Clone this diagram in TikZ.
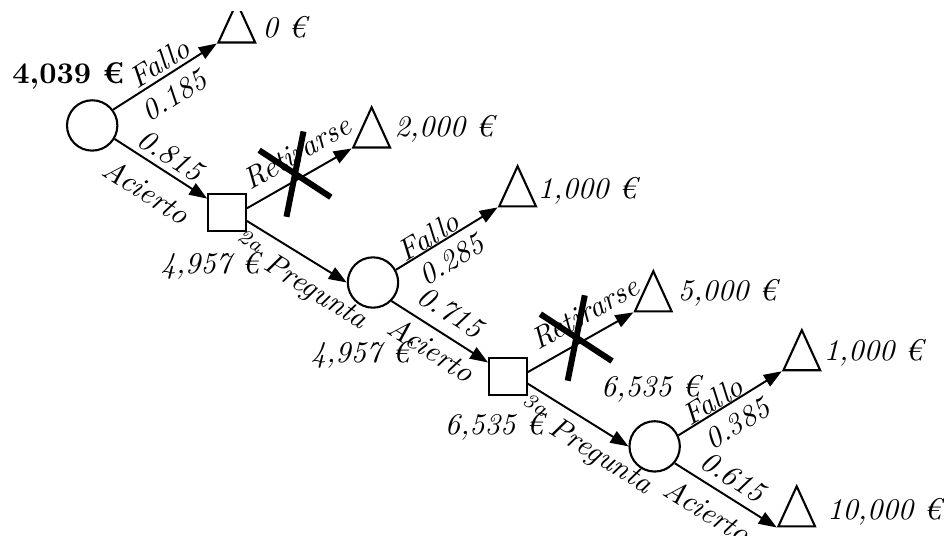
\documentclass[tikz,border=0pt]{standalone}
\usepackage{amsmath,amssymb}
\usetikzlibrary{positioning,arrows.meta,shapes,calc}

\begin{document}
\begin{tikzpicture}[
    chance/.style={draw, line width=0.7pt, circle, minimum size=0.59cm, inner sep=0pt},
    decision/.style={draw, line width=0.7pt, rectangle, minimum size=0.44cm, inner sep=0pt},
    payoff/.style={draw, line width=0.7pt, isosceles triangle, isosceles triangle stretches,
                   shape border rotate=90, minimum width=0.43cm, minimum height=0.47cm,
                   inner sep=0pt, anchor=left corner},
    arr/.style={line width=0.65pt, -{Triangle[length=6pt, width=4.4pt]}},
    lbl/.style={font=\itshape, sloped, inner sep=0pt},
    val/.style={font=\itshape},
    cut/.style={line width=2pt}
  ]
    \useasboundingbox (0,0) rectangle (11.06,6.27);
    \clip (0,0) rectangle (11.06,6.13);

    \node[chance] (c1) at (1.08,4.80) {};
    \node[decision] (d1) at (2.66,3.78) {};
    \node[chance] (c2) at (4.37,2.96) {};
    \node[decision] (d2) at (5.95,1.86) {};
    \node[chance] (c3) at (7.67,1.04) {};

    \node[payoff] (t1) at (2.54,5.76) {};
    \node[payoff] (t2) at (4.12,4.53) {};
    \node[payoff] (t3) at (5.83,3.84) {};
    \node[payoff] (t4) at (7.42,2.61) {};
    \node[payoff] (t5) at (9.16,1.92) {};
    \node[payoff] (t6) at (9.10,0.09) {};

    \node[font=\bfseries] (ev1) at (0.80,5.38) {4,039 €};
    \node[val] (ev2) at (2.46,3.15) {4,957 €};
    \node[val] (ev3) at (4.22,2.11) {4,957 €};
    \node[val] (ev4) at (5.79,1.27) {6,535 €};
    \node[val] (ev5) at (7.62,1.72) {6,535 €};

    \node[val] (p1) at (3.33,5.95) {0 €};
    \node[val] (p2) at (5.20,4.76) {2,000 €};
    \node[val] (p3) at (6.88,4.03) {1,000 €};
    \node[val] (p4) at (8.52,2.84) {5,000 €};
    \node[val] (p5) at (10.23,2.14) {1,000 €};
    \node[val] (p6) at (10.36,0.27) {10,000 €};

    \draw[arr] (c1.37) -- (t1.left corner)
      node[lbl, pos=0.52, above=1pt] {Fallo} node[lbl, pos=0.48, below=3.3pt] {0.185};
    \draw[arr] (c1.-31) -- (d1.145)
      node[lbl, pos=0.51, above=1.7pt] {0.815} node[lbl, pos=0.5, below=4.9pt] {Acierto};
    \draw[arr] (d1.12) -- (t2.left corner)
      node[lbl, pos=0.59, above=4pt] {Retirarse} coordinate[midway] (x1);
    \draw[arr] (d1.-23) -- (c2.west)
      node[lbl, pos=0.66, below=2.3pt] {\textsuperscript{2a} Pregunta};
    \draw[arr] (c2.29) -- (t3.left corner)
      node[lbl, pos=0.38, above=0pt] {Fallo} node[lbl, pos=0.44, below=2.9pt] {0.285};
    \draw[arr] (c2.south east) -- (d2.145)
      node[lbl, pos=0.49, above=3.7pt] {0.715} node[lbl, pos=0.52, below=2.4pt] {Acierto};
    \draw[arr] (d2.12) -- (t4.left corner)
      node[lbl, pos=0.65, above=3.9pt] {Retirarse} coordinate[midway] (x2);
    \draw[arr] (d2.-20) -- (c3.west)
      node[lbl, pos=0.69, below=1.9pt] {\textsuperscript{3a} Pregunta};
    \draw[arr] (c3.25) -- (t5.left corner)
      node[lbl, pos=0.39, above=0pt] {Fallo} node[lbl, pos=0.46, below=3.2pt] {0.385};
    \draw[arr] (c3.-40) -- (t6.left corner)
      node[lbl, pos=0.47, above=2.8pt] {0.615} node[lbl, pos=0.44, below=3.6pt] {Acierto};

    \draw[cut] ($(x1)+(-0.47,0.33)$) -- ($(x1)+(0.37,-0.22)$);
    \draw[cut] ($(x1)+(0.05,0.55)$) -- ($(x1)+(-0.15,-0.45)$);
    \draw[cut] ($(x2)+(-0.47,0.33)$) -- ($(x2)+(0.37,-0.22)$);
    \draw[cut] ($(x2)+(0.05,0.55)$) -- ($(x2)+(-0.15,-0.45)$);
  \end{tikzpicture}
\end{document}
